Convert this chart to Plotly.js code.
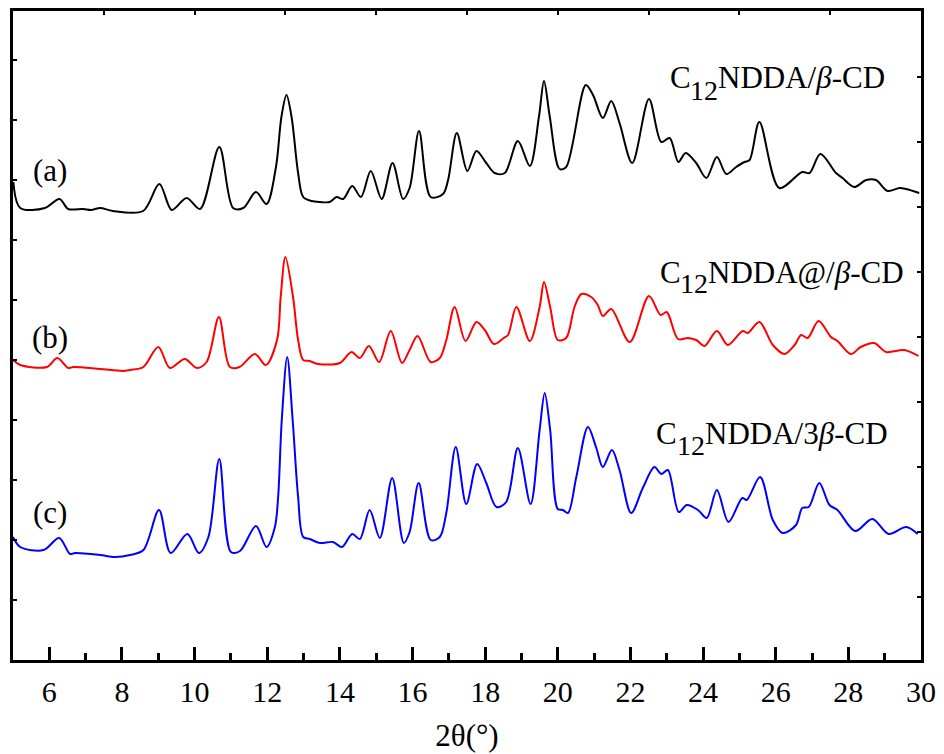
<!DOCTYPE html>
<html>
<head>
<meta charset="utf-8">
<script src="https://cdn.plot.ly/plotly-3.0.1.min.js"></script>
<style>html,body{margin:0;padding:0;background:#fff;}#chart{width:944px;height:754px;}</style>
</head>
<body>
<div id="chart"></div>
<script>
// 2θ (degrees) and intensity (arbitrary units, stacked) for each pattern
const thetaA = [5.01,5.20,5.88,6.28,6.52,6.93,7.15,7.40,7.75,8.58,9.03,9.37,9.78,10.15,10.68,11.06,11.34,11.69,11.98,12.24,12.39,12.53,12.67,12.85,12.99,13.22,13.45,13.72,13.91,14.09,14.34,14.58,14.85,15.15,15.45,15.74,15.92,16.18,16.50,16.84,16.98,17.22,17.51,17.76,18.03,18.26,18.54,18.90,19.23,19.48,19.62,19.78,20.05,20.23,20.77,20.97,21.24,21.47,21.70,22.05,22.51,22.85,23.08,23.32,23.52,23.81,24.09,24.38,24.64,24.91,25.14,25.28,25.55,26.10,26.73,26.93,27.23,27.66,27.84,28.16,28.49,28.76,29.08,29.41,29.59,29.95];
const intA   = [478,452,452,461,451,451,450,452,449,449,476,450,462,451,513,452,452,468,456,493,543,565,543,487,463,459,458,458,463,461,474,463,489,461,497,461,472,529,463,466,480,527,489,509,497,487,487,519,494,543,579,543,491,493,575,565,542,559,537,497,561,518,522,498,507,497,482,503,486,493,498,500,538,472,488,487,506,487,482,473,480,480,469,472,471,467];

const thetaB = [5.00,5.20,5.93,6.22,6.52,6.66,7.40,8.03,8.22,8.59,9.00,9.32,9.73,10.06,10.33,10.67,10.97,11.24,11.66,11.96,12.27,12.37,12.50,12.71,12.85,12.99,13.17,13.40,14.00,14.32,14.55,14.80,15.08,15.40,15.71,15.92,16.14,16.50,16.75,16.93,17.16,17.46,17.76,17.99,18.24,18.51,18.63,18.86,19.23,19.50,19.62,19.79,20.00,20.23,20.46,20.65,20.92,21.10,21.24,21.47,21.98,22.51,22.83,23.00,23.31,23.58,23.81,24.04,24.38,24.68,25.09,25.23,25.55,25.92,26.24,26.52,26.70,26.88,27.18,27.52,27.70,28.07,28.34,28.71,29.04,29.54,29.93];
const intB   = [300,295,293,302,292,293,291,289,290,293,313,292,301,292,298,343,293,293,306,295,320,363,403,363,320,300,299,296,297,308,302,314,298,329,297,310,324,298,302,320,353,319,338,330,316,322,325,353,319,353,378,353,320,322,353,366,363,355,344,351,318,364,345,348,321,322,320,314,329,315,329,327,338,315,306,315,325,322,339,323,319,306,313,317,308,310,304];

const thetaC = [5.00,5.20,5.84,6.27,6.57,6.71,7.40,7.81,8.22,8.59,9.02,9.34,9.80,10.12,10.38,10.68,11.00,11.25,11.69,11.98,12.21,12.30,12.40,12.55,12.70,12.85,12.99,13.17,13.45,13.81,14.06,14.34,14.55,14.82,15.10,15.44,15.76,15.92,16.17,16.50,16.75,16.93,17.19,17.48,17.78,18.03,18.31,18.58,18.90,19.25,19.50,19.64,19.79,20.00,20.14,20.28,20.51,20.83,21.06,21.24,21.49,21.70,22.02,22.34,22.66,22.85,23.03,23.33,23.55,23.86,24.10,24.38,24.70,25.08,25.20,25.57,25.92,26.19,26.56,26.73,26.91,27.20,27.48,27.70,28.19,28.66,29.11,29.59,29.91];
const intC   = [123,113,110,122,106,107,105,103,105,110,150,107,126,107,123,201,108,109,134,113,133,163,240,303,240,163,123,121,117,118,113,126,121,150,122,182,117,128,177,120,123,147,213,156,196,177,153,158,212,156,230,267,230,151,150,147,183,233,212,193,210,190,147,172,193,186,190,148,155,150,142,170,138,162,160,183,140,127,135,152,153,177,155,150,129,141,126,133,126];

const xTickVals = [6,8,10,12,14,16,18,20,22,24,26,28,30];
const xTitle = '2θ(°)';
const labelsSample = ['(a)','(b)','(c)'];
const labelsName = ['NDDA/<i>β</i>-CD','NDDA@/<i>β</i>-CD','NDDA/3<i>β</i>-CD'];
const colors = ['#000000','#ff0000','#0000ff'];

const traces = [
  {x: thetaA, y: intA, line:{color:colors[0]}},
  {x: thetaB, y: intB, line:{color:colors[1]}},
  {x: thetaC, y: intC, line:{color:colors[2]}}
].map(t => Object.assign(t, {type:'scatter', mode:'lines', line:Object.assign(t.line,{width:2, shape:'spline', smoothing:0.9}), hoverinfo:'skip', showlegend:false, xaxis:'x', yaxis:'y'}));

const serif = '"Liberation Serif", "Times New Roman", serif';
const ann = [];
// sample letters
const letterPos = [[6.02,490],[6.02,323],[6.02,148]];
labelsSample.forEach((t,i)=>ann.push({x:letterPos[i][0], y:letterPos[i][1], xref:'x', yref:'y', text:t, showarrow:false, xanchor:'center', yanchor:'middle', font:{family:serif,size:31,color:'#000'}}));
// sample names: C + subscript 12 + rest
const namePos = [[23.08,583,569.5],[22.80,388,376.5],[22.71,227,214.5]];
labelsName.forEach((t,i)=>{
  const p = namePos[i];
  const base = {xref:'x', yref:'y', showarrow:false, xanchor:'left', yanchor:'middle', borderpad:0, borderwidth:0};
  ann.push(Object.assign({}, base, {x:p[0], y:p[1], text:'C', xshift:0, font:{family:serif,size:31,color:'#000'}}));
  ann.push(Object.assign({}, base, {x:p[0], y:p[2], text:'12', xshift:20.7, font:{family:serif,size:28,color:'#000'}}));
  ann.push(Object.assign({}, base, {x:p[0], y:p[1], text:t, xshift:48.7, font:{family:serif,size:31,color:'#000'}}));
});

const layout = {
  width:944, height:754,
  margin:{l:13, r:23, t:11, b:94},
  paper_bgcolor:'#fff', plot_bgcolor:'#fff',
  font:{family:serif, color:'#000'},
  xaxis:{range:[5,30], tickvals:xTickVals, ticks:'inside', ticklen:13, tickwidth:3, tickcolor:'#000',
    minor:{tick0:5, dtick:1, ticks:'inside', ticklen:7, tickwidth:3, tickcolor:'#000'},
    showline:true, linewidth:3, linecolor:'#000', mirror:true, showgrid:false, zeroline:false,
    ticklabelstandoff:3,
    tickfont:{family:serif, size:30, color:'#000'},
    title:{text:xTitle, font:{family:serif, size:31, color:'#000'}, standoff:18}},
  yaxis:{range:[0,649], tick0:0, dtick:60, ticks:'inside', ticklen:4, tickwidth:2, tickcolor:'#000',
    showticklabels:false, showline:true, linewidth:3, linecolor:'#000', mirror:true, showgrid:false, zeroline:false},
  xaxis2:{overlaying:'x', side:'top', range:[5,30], tick0:5, dtick:2.5, ticks:'inside', ticklen:4, tickwidth:2, tickcolor:'#000',
    showticklabels:false, showline:false, showgrid:false, zeroline:false},
  yaxis2:{overlaying:'y', side:'right', range:[0,649], tick0:63, dtick:65, ticks:'inside', ticklen:4, tickwidth:2, tickcolor:'#000',
    showticklabels:false, showline:false, showgrid:false, zeroline:false},
  annotations: ann
};
// invisible helper trace so the secondary (top/right tick) axes are drawn
traces.push({type:'scatter', mode:'markers', x:[5], y:[0], xaxis:'x2', yaxis:'y2', marker:{opacity:0}, hoverinfo:'skip', showlegend:false});

Plotly.newPlot('chart', traces, layout, {staticPlot:true});
</script>
</body>
</html>
